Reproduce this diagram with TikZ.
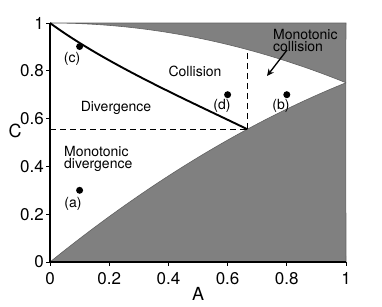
\documentclass[tikz,border=0pt]{standalone}
\usepackage{fontspec}
\setmainfont{TeX Gyre Heros}
\usetikzlibrary{arrows.meta}
\begin{document}
\begin{tikzpicture}[x=1pt,y=-1pt,
  regionfill/.style={fill=black!50, draw=black!62, line width=0.6pt},
  axisline/.style={line width=1.7pt},
  tickline/.style={line width=1pt},
  ticklab/.style={font=\fontsize{17}{20}\selectfont, inner sep=0pt},
  axlab/.style={font=\fontsize{18}{20}\selectfont, inner sep=0pt},
  reglab/.style={font=\fontsize{14}{12}\selectfont, inner sep=0pt},
  ptlab/.style={font=\fontsize{14}{16}\selectfont, inner sep=0pt},
  ptdot/.style={circle, fill=black, inner sep=0pt, minimum size=7pt},
  bound/.style={line width=1.9pt},
  guide/.style={line width=1.3pt, dash pattern=on 6pt off 4pt}]
\useasboundingbox (0,0) rectangle (382,306);
\fill[white] (0,0) rectangle (382,306);
% key coordinates
\coordinate (O) at (50,262);
\coordinate (T) at (50,23);
\coordinate (R) at (346,262);
\coordinate (RT) at (346,23);
\coordinate (P) at (247.33,129.22);
\coordinate (yC) at (50,129.22);
\coordinate (topV) at (247.33,49.56);
% gray regions
\path[regionfill] (T) -- plot[domain=0:1, samples=60] ({50+296*\x},{262-239*(1-\x*\x/4)}) -- (RT) -- cycle;
\path[regionfill] (O) -- plot[domain=0:1, samples=60] ({50+296*\x},{262-239*(\x-\x*\x/4)}) -- (R) -- cycle;
% dashed guides
\draw[guide] (yC) -- (P);
\draw[guide] (P) -- (topV);
% boundary curve
\draw[bound] (T) .. controls (106,64) and (187,100) .. (P);
% axes
\draw[axisline] (T) -- (O) -- (R);
\foreach \k/\t in {0/0,1/0.2,2/0.4,3/0.6,4/0.8,5/1} {
  \draw[tickline] (50,262-47.8*\k) -- ++(-4,0);
  \draw[tickline] (50+59.2*\k,262) -- ++(0,4);
  \node[ticklab, anchor=east] (yl\k) at (44,262-47.8*\k) {\t};
  \node[ticklab, anchor=base] (xl\k) at (50+59.2*\k,284) {\t};
}
\node[axlab] (labC) at (15,131) {C};
\node[axlab] (labA) at (198,294) {A};
% region labels
\node[reglab, anchor=base] (div) at (116,111.5) {Divergence};
\node[reglab, anchor=base] (col) at (195,76.5) {Collision};
\node[reglab, anchor=north west, align=left] (mcol) at (273,29) {Monotonic\\collision};
\node[reglab, anchor=north west, align=left] (mdiv) at (64,146.5) {Monotonic\\divergence};
% arrow
\coordinate (arS) at (287,50);
\coordinate (arE) at (267,76);
\draw[line width=1.3pt, -{Stealth[length=7pt,width=6.5pt]}] (arS) -- (arE);
% points
\node[ptdot] (dc) at (79.6,46.5) {};
\node[ptdot] (dd) at (227.6,94.7) {};
\node[ptdot] (db) at (286.8,94.7) {};
\node[ptdot] (da) at (79.6,190.3) {};
\node[ptlab] (lc) at (72,59) {(c)};
\node[ptlab] (ld) at (222,106) {(d)};
\node[ptlab] (lb) at (281,106) {(b)};
\node[ptlab] (la) at (73,204) {(a)};
\end{tikzpicture}
\end{document}
